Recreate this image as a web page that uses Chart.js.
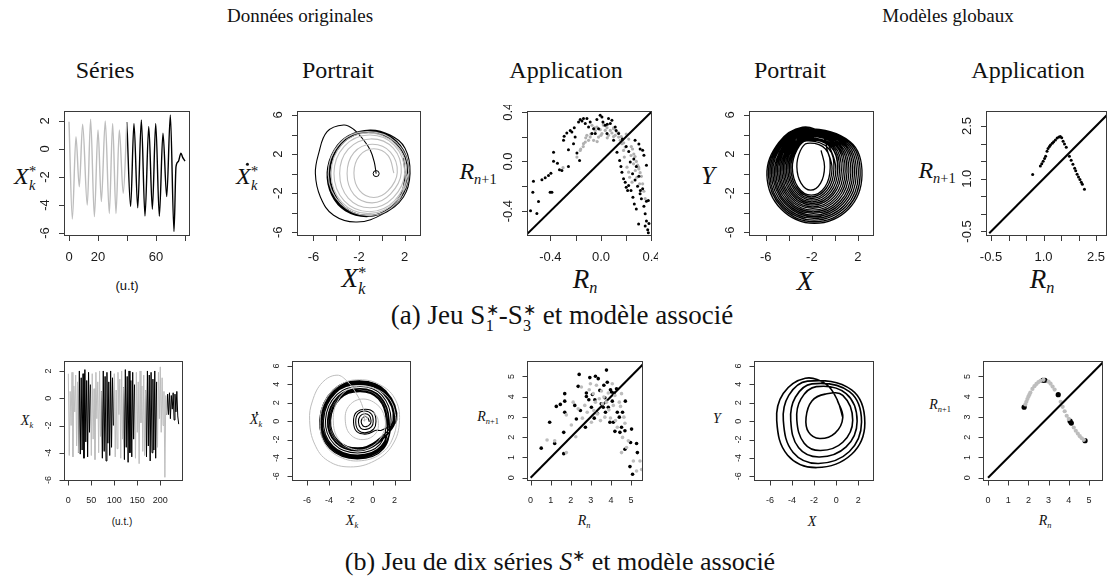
<!DOCTYPE html>
<html>
<head>
<meta charset="utf-8">
<script src="https://cdn.jsdelivr.net/npm/chart.js@4/dist/chart.umd.min.js"></script>
<style>
  html, body { margin: 0; padding: 0; background: #fff; }
  body { position: relative; width: 1109px; height: 578px; overflow: hidden; font-family: "Liberation Serif", serif; color: #111; }
  canvas { position: absolute; }
  .t { position: absolute; white-space: nowrap; transform: translate(-50%, -50%); font-size: 19px; }
  .sub { font-size: 24px; }
  .cap { font-size: 26px; }
  .ax { position: absolute; white-space: nowrap; transform: translate(-50%, -50%); font-family: "Liberation Serif", serif; line-height: 1; }
  .ax i { font-style: italic; }
  .sans { font-family: "Liberation Sans", sans-serif; }
  .ss { display: inline-block; vertical-align: -0.42em; font-size: 0.6em; line-height: 0.95; margin-left: 0.02em; text-align: left; }
  .ss > * { display: block; }
  .sb { font-size: 0.6em; vertical-align: -0.35em; }
  .dx { position: relative; display: inline-block; }
  .dx::after { content: ""; position: absolute; left: 68%; top: -0.04em; width: 0.13em; height: 0.13em; border-radius: 50%; background: #111; }
</style>
</head>
<body>

<div class="t" style="left:300px;top:16px">Données originales</div>
<div class="t" style="left:948px;top:16px">Modèles globaux</div>
<div class="t sub" style="left:105px;top:70px">Séries</div>
<div class="t sub" style="left:338px;top:70px">Portrait</div>
<div class="t sub" style="left:566px;top:70px">Application</div>
<div class="t sub" style="left:790px;top:70px">Portrait</div>
<div class="t sub" style="left:1028px;top:70px">Application</div>
<div class="t cap" style="left:562px;top:317px;font-size:27px">(a) Jeu S<span class="ss"><span>∗</span><span>1</span></span>-S<span class="ss"><span>∗</span><span>3</span></span> et modèle associé</div>
<div class="t cap" style="left:560px;top:562px">(b) Jeu de dix séries <i>S</i><sup style="font-size:0.6em">∗</sup> et modèle associé</div>

<!-- axis titles, first row -->
<div class="ax" style="left:25px;top:178px;font-size:24px"><i>X</i><span class="ss"><span>*</span><i>k</i></span></div>
<div class="ax sans" style="left:127px;top:285px;font-size:13px">(u.t)</div>
<div class="ax" style="left:247px;top:178px;font-size:24px"><i class="dx">X</i><span class="ss"><span>*</span><i>k</i></span></div>
<div class="ax" style="left:354px;top:281px;font-size:27px"><i>X</i><span class="ss"><span>*</span><i>k</i></span></div>
<div class="ax" style="left:478px;top:173px;font-size:24px"><i>R</i><span class="sb"><i>n</i>+1</span></div>
<div class="ax" style="left:585px;top:281px;font-size:27px"><i>R</i><span class="sb"><i>n</i></span></div>
<div class="ax" style="left:708px;top:175px;font-size:25px"><i>Y</i></div>
<div class="ax" style="left:805px;top:281px;font-size:27px"><i>X</i></div>
<div class="ax" style="left:937px;top:172px;font-size:24px"><i>R</i><span class="sb"><i>n</i>+1</span></div>
<div class="ax" style="left:1042px;top:281px;font-size:27px"><i>R</i><span class="sb"><i>n</i></span></div>

<!-- axis titles, second row -->
<div class="ax" style="left:27px;top:422px;font-size:14px"><i>X</i><span class="sb"><i>k</i></span></div>
<div class="ax sans" style="left:122px;top:522px;font-size:10px">(u.t.)</div>
<div class="ax" style="left:256px;top:421px;font-size:14px"><i class="dx">X</i><span class="sb"><i>k</i></span></div>
<div class="ax" style="left:352px;top:522px;font-size:14px"><i>X</i><span class="sb"><i>k</i></span></div>
<div class="ax" style="left:488px;top:418px;font-size:14px"><i>R</i><span class="sb"><i>n</i>+1</span></div>
<div class="ax" style="left:584px;top:522px;font-size:14px"><i>R</i><span class="sb"><i>n</i></span></div>
<div class="ax" style="left:717px;top:419px;font-size:14px"><i>Y</i></div>
<div class="ax" style="left:812px;top:522px;font-size:14px"><i>X</i></div>
<div class="ax" style="left:940px;top:406px;font-size:14px"><i>R</i><span class="sb"><i>n</i>+1</span></div>
<div class="ax" style="left:1045px;top:522px;font-size:14px"><i>R</i><span class="sb"><i>n</i></span></div>

<script>
// ===================== data =====================
const GRAY = '#bdbdbd';
const BLACK = '#000000';

// (a) time series: extrema of the measured signal, gray part then black part
const timesGrayA  = [0, 2.3, 4.8, 7.1, 9.4, 12.6, 14.9, 17.5, 20, 22.3, 25, 27.8, 30.1, 32.4, 34.7, 37.4, 39.9];
const valuesGrayA = [1.95, -5.0, 0.88, -2.7, 1.76, -4.0, 2.12, -4.83, 1.36, -3.76, 2.0, -4.6, 1.83, -4.6, 1.36, -3.17, 1.9];
const timesBlackA  = [39.9, 42.5, 44.8, 47.4, 49.9, 52.4, 55, 57.5, 59.8, 62.3, 64.8, 67.4, 69.9, 72.4, 73.8, 75.4, 77.2, 78.4, 80];
const valuesBlackA = [1.9, -4.1, 1.83, -4.2, 2.07, -4.79, 1.6, -4.3, 1.83, -4.8, 1.12, -3.4, 2.43, -5.9, -1.26, -0.9, -0.3, -0.6, -0.86];

// (a) original phase portrait
const portraitGrayA = [
  [1.05,0.05],[0.55,1.85],[-0.7,2.55],[-1.95,1.85],[-2.45,0.05],[-1.95,-1.75],[-0.7,-2.45],[0.55,-1.75],
  [1.35,0.1],[0.75,2.2],[-0.85,3.0],[-2.45,2.15],[-3.05,0],[-2.45,-2.15],[-0.85,-3.0],[0.75,-2.1],
  [1.7,0.1],[1.0,2.6],[-1.0,3.55],[-2.95,2.5],[-3.7,0],[-2.95,-2.5],[-1.0,-3.5],[1.0,-2.45],
  [2.0,0.1],[1.1,2.9],[-1.1,3.95],[-3.3,2.8],[-4.2,0],[-3.3,-2.8],[-1.1,-3.9],[1.1,-2.8],
  [2.15,0.1],[1.2,3.0],[-1.2,4.15],[-3.5,3.0],[-4.45,0],[-3.5,-2.95],[-1.15,-4.1],[1.2,-2.9],
  [2.35,0.1],[1.3,3.15],[-1.3,4.3],[-3.7,3.1],[-4.7,-0.1],[-3.6,-3.1],[-1.1,-4.3],[1.3,-3.0],[2.3,0]
];
const portraitBlackA = [
  [-0.5,0.0],[-0.67,1.21],[-1.02,2.41],[-1.6,3.44],[-2.48,4.54],[-3.35,4.98],[-4.8,4.3],[-5.54,2.07],[-5.83,0.0],
  [-5.39,-2.39],[-4.23,-4.27],[-2.18,-4.96],[0.14,-4.1],[1.89,-2.39],[2.47,0.0],[2.03,2.59],[0.72,3.95],[-1.02,4.47],
  [-2.9,3.9],[-4.2,2.4],[-4.8,0.1],[-4.4,-2.2],[-3.2,-3.8],[-1.2,-4.4],[0.7,-3.6],[1.95,-1.9],[2.35,0.2],[1.9,2.4],[0.6,3.9],[-1.1,4.35],
  [-2.8,3.8],[-4.1,2.2],[-4.6,-0.1],[-4.2,-2.4],[-2.9,-3.95],[-1.0,-4.35],[0.8,-3.5],[2.0,-1.7],[2.25,0.4],[1.7,2.5],[0.4,3.95],[-1.3,4.25],
  [-3.0,3.6],[-4.3,1.8],[-4.7,-0.4],[-4.1,-2.7],[-2.6,-4.1],[-0.7,-4.3],[1.0,-3.3],[2.1,-1.4],[2.3,0.6],[1.6,2.7],[0.2,4.05],[-1.5,4.3],
  [-3.2,3.5],[-4.4,1.5],[-4.6,-0.8],[-3.9,-2.9],[-2.3,-4.2],[-0.4,-4.2],[1.2,-3.0],[2.1,-1.0],[2.2,1.0],[1.4,2.9],[-0.1,4.1],[-1.8,4.2],
  [-3.4,3.2],[-4.5,1.1],[-4.5,-1.2],[-3.6,-3.2],[-2.0,-4.3],[-0.2,-4.1],[1.3,-2.8],[2.05,-0.7],[2.15,1.3],[1.2,3.1],[-0.4,4.1],[-2.1,4.05],
  [-3.6,2.9],[-4.5,0.7],[-4.3,-1.6],[-3.3,-3.4],[-1.6,-4.25],[0.2,-3.9],[1.5,-2.5],[2.0,-0.4],[1.9,1.6]
];
const portraitStartA = [[-0.5, 0.0]];

// (a) first-return map of the data
const mapBlackA = [
  [-0.557,-0.396],[-0.539,-0.248],[-0.534,-0.159],[-0.507,-0.418],[-0.494,-0.323],[-0.467,-0.148],[-0.441,-0.132],
  [-0.415,-0.113],[-0.402,-0.248],[-0.388,-0.248],[-0.396,-0.094],[-0.375,0.075],[-0.375,0.002],[-0.344,-0.014],
  [-0.328,-0.067],[-0.309,-0.073],[-0.296,0.17],[-0.291,0.202],[-0.27,0.229],[-0.257,-0.04],[-0.257,0.095],
  [-0.243,0.25],[-0.23,0.237],[-0.217,0.143],[-0.211,0.272],[-0.204,0.196],[-0.19,0.067],[-0.177,0.318],
  [-0.169,0.008],[-0.164,0.337],[-0.15,0.326],[-0.138,0.345],[-0.124,0.305],[-0.111,0.345],[-0.098,0.277],
  [-0.085,0.318],[-0.071,0.224],[-0.058,0.264],[-0.045,0.224],[-0.032,0.337],[-0.019,0.264],[-0.006,0.372],
  [0.008,0.358],[0.016,0.318],[0.034,0.291],[0.048,0.224],[0.06,0.345],[0.074,0.305],[0.087,0.331],[0.1,0.17],
  [0.113,0.277],[0.127,0.075],[0.14,0.224],[0.148,0.008],[0.158,-0.04],[0.166,-0.086],[0.179,-0.14],[0.192,-0.167],
  [0.2,-0.208],[0.211,-0.234],[0.219,-0.194],[0.232,-0.005],[0.238,-0.234],[0.253,-0.288],[0.264,-0.342],
  [0.28,-0.382],[0.298,-0.503],[0.35,-0.52],[0.375,-0.574],[0.375,-0.315],[0.312,-0.234],[0.33,0.09],[0.36,-0.03],
  [0.27,0.17],[0.25,-0.1],[0.27,-0.15],[0.29,-0.2],[0.31,-0.26],[0.32,-0.3],[0.34,-0.36],[0.35,-0.42],[0.36,-0.48],
  [0.37,-0.55],[0.38,-0.5],[0.36,-0.32],[0.33,-0.22],[0.3,-0.12],[0.28,-0.04],[0.26,0.02],[0.22,0.08],[0.2,0.12],
  [0.17,0.18],[0.12,0.25],[0.05,0.3],[0.34,0.05],[0.31,0.1],[0.3,0.14]
];
const mapGrayA = [
  [-0.19,0.035],[-0.164,0.089],[-0.138,0.143],[-0.124,0.156],[-0.111,0.21],[-0.098,0.17],[-0.085,0.196],[-0.071,0.291],
  [-0.058,0.17],[-0.045,0.25],[-0.032,0.277],[-0.019,0.196],[-0.006,0.256],[0.008,0.224],[0.021,0.291],[0.034,0.25],
  [0.048,0.272],[0.06,0.21],[0.074,0.25],[0.087,0.229],[0.1,0.264],[0.113,0.21],[0.127,0.237],[0.14,0.196],[0.153,0.17],
  [0.166,0.143],[0.179,0.089],[0.185,0.035],[0.192,0.116],[0.206,-0.046],[0.219,-0.086],[0.227,-0.127],[0.238,0.048],
  [0.246,-0.167],[0.258,-0.019],[0.272,-0.073],[0.285,-0.127],[0.298,-0.046],[0.306,-0.18],
  [0.2,0.22],[0.22,0.18],[0.24,0.12],[0.26,0.06],[0.28,0.0],[0.3,-0.06],[0.32,-0.12],[0.33,-0.18],[0.34,-0.24],
  [0.35,-0.3],[0.25,0.1],[0.27,0.04],[0.29,-0.03],[0.31,-0.09],[0.16,0.2],[0.18,0.15],[0.1,0.27],[0.02,0.3],
  [-0.05,0.27],[-0.08,0.22],[-0.12,0.19],[-0.14,0.12],[-0.16,0.1],[-0.3,-0.05],[0.05,0.19],[0.1,0.2],[0.14,0.23],
  [0.0,0.21],[-0.03,0.16]
];
const identityA = [-0.6, 0.42];

// (a) global model phase portrait: spiralling turns, re-injected through the fold near the top
const portraitModelA = [
  [-1.2,2.38],[-0.9,0.7],[-1.24,-0.98],[-2.1,-1.7],[-2.94,-0.98],[-3.3,0.7],[-3.0,2.33],[-2.4,3.1],
  [-0.82,2.52],[-0.41,0.57],[-0.87,-1.38],[-2.05,-2.21],[-3.2,-1.38],[-3.69,0.57],[-3.28,2.46],[-2.46,3.35],
  [-0.57,2.6],[-0.09,0.48],[-0.63,-1.64],[-2.02,-2.55],[-3.37,-1.64],[-3.95,0.48],[-3.47,2.54],[-2.5,3.51],
  [-0.32,2.7],[0.24,0.4],[-0.38,-1.9],[-1.99,-2.89],[-3.55,-1.9],[-4.21,0.4],[-3.66,2.64],[-2.55,3.68],
  [-0.07,2.79],[0.56,0.31],[-0.15,-2.17],[-1.96,-3.23],[-3.72,-2.17],[-4.47,0.31],[-3.85,2.72],[-2.59,3.84],
  [0.19,2.87],[0.89,0.22],[0.1,-2.43],[-1.92,-3.57],[-3.89,-2.43],[-4.73,0.22],[-4.03,2.8],[-2.62,4.01],
  [0.44,2.96],[1.21,0.13],[0.34,-2.7],[-1.89,-3.91],[-4.06,-2.7],[-4.99,0.13],[-4.22,2.88],[-2.67,4.17],
  [0.69,3.06],[1.54,0.05],[0.59,-2.96],[-1.86,-4.25],[-4.24,-2.96],[-5.25,0.05],[-4.41,2.97],[-2.71,4.34],
  [0.94,3.14],[1.86,-0.05],[0.83,-3.24],[-1.83,-4.59],[-4.41,-3.24],[-5.51,-0.05],[-4.6,3.04],[-2.75,4.5],
  [1.2,3.23],[2.19,-0.13],[1.08,-3.49],[-1.79,-4.93],[-4.58,-3.49],[-5.77,-0.13],[-4.78,3.13],[-2.79,4.67],
  [-1.2,3.9],
  [-0.44,2.65],[0.08,0.44],[-0.5,-1.77],[-2.0,-2.72],[-3.46,-1.77],[-4.08,0.44],[-3.56,2.59],[-2.52,3.6],
  [0.06,2.84],[0.73,0.27],[-0.02,-2.3],[-1.94,-3.4],[-3.81,-2.3],[-4.6,0.27],[-3.94,2.77],[-2.61,3.93],
  [0.31,2.92],[1.05,0.18],[0.22,-2.56],[-1.91,-3.74],[-3.98,-2.56],[-4.86,0.18],[-4.13,2.85],[-2.65,4.09],
  [0.57,3.01],[1.38,0.09],[0.47,-2.83],[-1.87,-4.08],[-4.15,-2.83],[-5.12,0.09],[-4.31,2.93],[-2.68,4.26],
  [0.82,3.09],[1.7,0.0],[0.71,-3.09],[-1.84,-4.42],[-4.32,-3.09],[-5.38,0.0],[-4.5,3.01],[-2.73,4.42],
  [1.07,3.19],[2.03,-0.09],[0.95,-3.37],[-1.81,-4.76],[-4.5,-3.37],[-5.64,-0.09],[-4.69,3.09],[-2.77,4.59],
  [1.32,3.27],[2.35,-0.18],[1.19,-3.63],[-1.78,-5.1],[-4.67,-3.63],[-5.9,-0.18],[-4.88,3.17],[-2.81,4.75],
  [-1.0,3.95],
  [-0.7,2.56],[-0.25,0.53],[-0.75,-1.5],[-2.04,-2.38],[-3.29,-1.5],[-3.82,0.53],[-3.38,2.5],[-2.49,3.43],
  [-0.19,2.74],[0.4,0.35],[-0.26,-2.04],[-1.97,-3.06],[-3.63,-2.04],[-4.34,0.35],[-3.75,2.67],[-2.56,3.76],
  [0.1,2.85]
];

// (a) first-return map of the model
const mapModelA = [
  [0.69,1.12],[0.91,1.36],[0.95,1.43],[0.99,1.5],[1.03,1.58],[1.06,1.64],[1.1,1.78],[1.13,1.86],[1.17,1.92],
  [1.2,1.96],[1.25,2.01],[1.29,2.05],[1.34,2.1],[1.39,2.16],[1.44,2.19],[1.48,2.2],[1.52,2.17],[1.56,2.07],
  [1.6,1.99],[1.65,1.9],[1.74,1.64],[1.79,1.53],[1.84,1.41],[1.89,1.3],[1.92,1.23],[1.96,1.13],[2.0,1.05],
  [2.04,0.98],[2.08,0.9],[2.11,0.84],[2.17,0.7]
];
const identityModelA = [-0.55, 3.0];

// (b) ten series: alternating extrema sampled every 2 time units
const stepB = 2;
const valuesB = [
  1.8,-4.2,0.5,-2.0,1.9,-4.3,0.9,-1.0,1.7,-3.5,1.2,-4.0,
  2.0,-4.1,1.5,-3.8,1.8,-4.4,2.1,-3.2,1.3,-4.3,1.9,-2.5,1.0,
  -4.2,1.8,-3.0,0.7,-4.5,1.9,-1.5,1.2,-4.0,2.0,-2.8,0.5,
  -4.4,2.0,-3.9,1.6,-4.6,1.9,-3.3,1.2,-4.2,2.0,-3.6,1.5,-2.0,
  1.8,-4.3,0.6,-3.7,1.9,-1.2,1.4,-4.4,2.0,-3.0,0.8,
  -4.5,2.1,-3.6,1.6,-4.7,2.0,-4.0,1.3,-4.3,1.9,-3.0,1.0,
  -4.4,1.9,-2.5,1.2,-4.8,2.0,-1.8,0.9,-3.9,1.7,-4.2,0.6,
  -4.3,2.0,-3.5,1.7,-4.6,1.9,-4.0,1.4,-3.8,2.0,-4.4,1.2,
  -3.6,1.9,-1.5,2.3,-2.5,1.5,-2.0,0.5,-5.8,0.2,-1.2,
  0.3,-1.2,0.4,-1.5,0.2,-0.8,0.4,-1.6,0.3,-1.0,0.5,-1.3,-1.9
];
const segmentsB = [0, 11, 24, 36, 49, 60, 72, 84, 96, 107, 120];

// (b) original phase portrait
const portraitGrayB = [
  [-0.7,0.1],[-0.45,0.35],[-0.7,0.55],[-0.95,0.3],[-0.75,0.0],[-0.9,1.5],[-1.5,3.0],[-2.3,4.3],[-3.26,5.0],
  [-4.6,4.2],[-5.5,2.2],[-5.76,0.05],[-5.3,-2.5],[-4.1,-4.3],[-2.05,-4.98],[0.2,-4.3],[1.8,-2.6],[2.45,0.05],
  [2.0,2.5],[0.6,4.0],[-1.2,4.5],[-2.9,4.0],[-4.3,2.3],[-4.8,0.0],[-4.4,-2.4],[-3.0,-3.9],[-1.0,-4.3],[0.9,-3.4],
  [1.95,-1.5],[2.1,0.5],[1.4,2.6],[-0.3,3.7],[-2.0,3.6],[-3.2,2.2],[-3.6,0.1],[-3.1,-2.0],[-1.6,-3.1],[0.0,-2.7],
  [1.0,-1.2],[1.1,0.4],[0.4,1.8],[-1.0,2.4],[-2.2,1.6],[-2.5,0.0],[-2.0,-1.5],[-0.8,-2.0],[0.3,-1.3],[0.5,0.1],[0.1,1.0]
];
const portraitBlackB = [
  [-0.3,-0.07],[-0.45,0.35],[-0.7,0.5],[-0.95,0.3],[-1.05,-0.1],[-0.9,-0.5],[-0.6,-0.6],[-0.25,-0.35],
  [-0.15,0.05],[-0.3,0.6],[-0.7,0.8],[-1.15,0.55],[-1.3,-0.1],[-1.1,-0.75],[-0.6,-0.9],[-0.1,-0.6],
  [0.05,0.0],[-0.1,0.75],[-0.7,1.1],[-1.35,0.8],[-1.55,-0.1],[-1.3,-1.0],[-0.6,-1.25],[0.1,-0.85],
  [0.3,-0.05],[0.1,0.95],[-0.65,1.3],[-1.5,0.95],[-1.75,-0.1],[-1.45,-1.15],[-0.55,-1.4],[0.3,-1.0],[0.8,-0.98],
  [2.2,0.1],[1.2,3.3],[-1.1,4.4],[-3.6,3.4],[-4.85,0.1],[-3.9,-3.0],[-1.4,-4.1],[1.0,-3.0],
  [1.51,0.11],[0.71,2.67],[-1.13,3.55],[-3.13,2.75],[-4.13,0.11],[-3.37,-2.37],[-1.37,-3.25],[0.55,-2.37],
  [1.96,0.1],[1.03,3.08],[-1.11,4.1],[-3.44,3.17],[-4.6,0.1],[-3.71,-2.78],[-1.39,-3.8],[0.84,-2.78],
  [1.34,0.11],[0.59,2.51],[-1.14,3.34],[-3.01,2.59],[-3.95,0.11],[-3.24,-2.21],[-1.36,-3.04],[0.44,-2.21],
  [2.1,0.1],[1.13,3.21],[-1.1,4.27],[-3.53,3.3],[-4.74,0.1],[-3.82,-2.91],[-1.4,-3.97],[0.93,-2.91],
  [1.68,0.11],[0.83,2.83],[-1.12,3.76],[-3.25,2.91],[-4.31,0.11],[-3.5,-2.53],[-1.38,-3.46],[0.66,-2.53],
  [1.23,0.11],[0.51,2.42],[-1.14,3.21],[-2.94,2.49],[-3.84,0.11],[-3.16,-2.12],[-1.36,-2.91],[0.37,-2.12],
  [1.86,0.11],[0.96,2.99],[-1.12,3.98],[-3.37,3.08],[-4.49,0.11],[-3.64,-2.69],[-1.39,-3.68],[0.78,-2.69],
  [1.44,0.11],[0.66,2.61],[-1.13,3.47],[-3.08,2.69],[-4.06,0.11],[-3.32,-2.31],[-1.37,-3.17],[0.51,-2.31],
  [2.03,0.1],[1.08,3.14],[-1.11,4.19],[-3.48,3.24],[-4.67,0.1],[-3.77,-2.84],[-1.39,-3.89],[0.89,-2.84],[1.9,0.1]
];

// (b) first-return map of the data
const mapBlackB = [
  [0.53,1.46],[0.95,2.74],[1.2,1.69],[1.28,3.52],[1.48,3.62],[1.7,4.15],[1.7,3.78],[1.7,3.23],[1.65,2.24],[1.65,1.19],
  [2.2,3.57],[2.28,2.9],[2.37,4.51],[2.42,5.1],[2.48,3.32],[2.73,2.49],[2.78,4.18],[2.78,4.01],[2.9,3.85],[2.95,4.94],
  [3.03,3.48],[3.08,4.11],[3.17,2.94],[3.2,3.85],[3.23,5.01],[3.32,3.18],[3.37,4.89],[3.45,4.31],[3.52,3.65],[3.62,3.48],
  [3.65,4.56],[3.7,3.95],[3.73,3.23],[3.78,5.31],[3.82,4.71],[3.87,3.48],[3.95,2.74],[3.98,4.34],[4.03,4.23],[4.07,3.78],
  [4.12,2.74],[4.15,4.18],[4.2,2.29],[4.28,4.39],[4.32,3.23],[4.42,2.99],[4.45,2.24],[4.53,2.49],[4.58,3.23],[4.7,2.32],
  [4.72,3.78],[4.7,1.41],[4.98,1.74],[5.03,2.4],[4.95,0.55],[5.08,0.17],[5.28,1.69],[5.32,1.24]
];
const mapGrayB = [
  [0.82,1.86],[1.2,1.82],[1.78,1.24],[1.78,3.1],[2.03,2.6],[2.12,3.73],[2.25,2.02],[2.37,3.4],[2.53,4.48],[2.58,2.94],
  [2.7,3.57],[2.82,3.23],[2.92,4.34],[2.98,4.64],[3.03,2.74],[3.12,4.15],[3.15,3.32],[3.23,3.73],[3.28,4.56],[3.33,3.15],
  [3.42,3.9],[3.48,2.82],[3.53,4.28],[3.58,3.65],[3.65,3.98],[3.7,2.99],[3.78,3.73],[3.87,4.18],[3.9,3.35],[3.98,2.95],
  [4.07,4.64],[4.12,3.57],[4.2,4.06],[4.23,2.82],[4.32,2.49],[4.42,3.73],[4.48,3.52],[4.53,4.15],[4.58,1.99],[4.65,2.99],
  [4.7,2.69],[4.53,1.24],[4.78,1.49],[4.87,1.82],[5.12,0.83],[5.28,0.33],[5.53,0.41],[5.45,0.83]
];
const identityB = [0, 6];

// (b) global model phase portrait: closed orbit of five growing turns
const portraitModelB = [
  [0.1,2.3],[0.6,0.4],[-0.1,-1.3],[-1.5,-1.89],[-2.5,-1.2],[-2.73,0.4],[-2.2,2.2],[-1.0,2.94],
  [0.6,2.8],[1.5,0.1],[0.6,-2.3],[-1.4,-3.2],[-2.9,-2.4],[-3.57,0.15],[-3.2,2.4],[-1.8,3.75],
  [0.9,3.0],[1.9,0.0],[0.9,-2.8],[-1.5,-3.9],[-3.4,-2.9],[-4.12,0.1],[-3.7,2.6],[-2.2,4.05],
  [1.2,3.2],[2.3,-0.1],[1.2,-3.3],[-1.6,-4.6],[-3.9,-3.4],[-4.79,0.05],[-4.3,2.8],[-2.6,4.35],
  [1.4,3.4],[2.6,-0.2],[1.4,-3.6],[-1.75,-5.05],[-4.4,-3.7],[-5.39,0.05],[-4.8,3.0],[-2.8,4.66],
  [-0.9,4.0],[0.1,2.3],[0.6,0.4]
];

// (b) first-return map of the model
const mapModelGrayB = [
  [1.85,3.62],[1.9,3.75],[1.95,3.88],[2.0,4.0],[2.05,4.1],[2.1,4.2],[2.2,4.38],[2.3,4.52],[2.4,4.63],[2.5,4.72],
  [2.6,4.78],[2.75,4.83],[3.0,4.74],[3.1,4.64],[3.2,4.5],[3.3,4.35],[3.6,3.75],[3.7,3.5],[3.8,3.28],[3.9,3.06],
  [4.0,2.9],[4.25,2.48],[4.35,2.32],[4.45,2.18],[4.55,2.05],[4.65,1.95],[4.75,1.87]
];
const mapModelBlackB = [[1.79,3.48],[2.72,4.81],[2.82,4.81],[3.48,4.1],[4.07,2.79],[4.13,2.7],[4.81,1.83]];

// tick positions and labels
const ticksSeriesA = [0, 20, 40, 60, 80],   labelsSeriesA = ['0', '20', '', '60', ''];
const ticksSeriesAy = [-6, -4, -2, 0, 2],  labelsSeriesAy = ['-6', '-4', '-2', '0', '2'];
const ticksPortrait = [-6, -4, -2, 0, 2],  labelsPortraitA = ['-6', '', '-2', '', '2'];
const ticksPortraitY = [-6, -4, -2, 0, 2, 4, 6], labelsPortraitAy = ['-6', '', '-2', '', '2', '', '6'];
const ticksMapA = [-0.4, -0.2, 0, 0.2, 0.4], labelsMapA = ['-0.4', '', '0.0', '', '0.4'];
const ticksMapModelA = [-0.5, 0, 0.5, 1, 1.5, 2, 2.5], labelsMapModelA = ['-0.5', '', '', '1.0', '', '', '2.5'];
const ticksSeriesB = [0, 50, 100, 150, 200], labelsSeriesB = ['0', '50', '100', '150', '200'];
const labelsPortraitB = ['-6', '-4', '-2', '0', '2'];
const labelsPortraitBy = ['-6', '-4', '-2', '0', '2', '4', '6'];
const ticksMapB = [0, 1, 2, 3, 4, 5], labelsMapB = ['0', '1', '2', '3', '4', '5'];

// ===================== drawing =====================
const pts = arr => arr.map(([x, y]) => ({ x, y }));
const lineSet = (arr, color, width, tension) => ({
  data: pts(arr), showLine: true, borderColor: color, borderWidth: width, pointRadius: 0, tension: tension, fill: false
});
const dotSet = (arr, color, r) => ({
  data: pts(arr), showLine: false, pointRadius: r, pointBackgroundColor: color, pointBorderColor: color, pointBorderWidth: 0
});
const diag = (lim, width) => ({
  data: [{ x: lim[0], y: lim[0] }, { x: lim[1], y: lim[1] }], showLine: true, borderColor: BLACK, borderWidth: width, pointRadius: 0
});

// R-like box, outward ticks and rotated y labels, placed through the chart scales
const rAxes = {
  id: 'rAxes',
  afterDraw(chart, args, o) {
    const { ctx, chartArea: a, scales } = chart;
    const xs = scales.x, ys = scales.y;
    ctx.save();
    ctx.strokeStyle = '#3a3a3a';
    ctx.lineWidth = 1;
    ctx.strokeRect(a.left + 0.5, a.top + 0.5, a.right - a.left - 1, a.bottom - a.top - 1);
    ctx.beginPath();
    o.xTicks.forEach(v => {
      const p = Math.round(xs.getPixelForValue(v)) + 0.5;
      ctx.moveTo(p, a.bottom); ctx.lineTo(p, a.bottom + o.tick);
    });
    o.yTicks.forEach(v => {
      const p = Math.round(ys.getPixelForValue(v)) + 0.5;
      ctx.moveTo(a.left, p); ctx.lineTo(a.left - o.tick, p);
    });
    ctx.stroke();
    ctx.fillStyle = '#1a1a1a';
    ctx.font = o.font;
    ctx.textAlign = 'center';
    ctx.textBaseline = 'middle';
    o.xTicks.forEach((v, i) => {
      const s = o.xLabels[i];
      if (s) ctx.fillText(s, xs.getPixelForValue(v), a.bottom + o.xOff);
    });
    o.yTicks.forEach((v, i) => {
      const s = o.yLabels[i];
      if (!s) return;
      ctx.save();
      ctx.translate(a.left - o.yOff, ys.getPixelForValue(v));
      ctx.rotate(-Math.PI / 2);
      ctx.fillText(s, 0, 0);
      ctx.restore();
    });
    ctx.restore();
  }
};

const PAD = { left: 62, top: 6, right: 6, bottom: 34 };
function panel(box, xr, yr, datasets, axes) {
  const c = document.createElement('canvas');
  c.width = box.r - box.l + PAD.left + PAD.right;
  c.height = box.b - box.t + PAD.top + PAD.bottom;
  c.style.left = (box.l - PAD.left) + 'px';
  c.style.top = (box.t - PAD.top) + 'px';
  document.body.appendChild(c);
  new Chart(c, {
    type: 'scatter',
    data: { datasets },
    options: {
      responsive: false, animation: false, events: [], devicePixelRatio: 1,
      layout: { padding: PAD },
      scales: {
        x: { type: 'linear', min: xr[0], max: xr[1], display: false },
        y: { type: 'linear', min: yr[0], max: yr[1], display: false }
      },
      plugins: { legend: { display: false }, tooltip: { enabled: false }, rAxes: axes }
    },
    plugins: [rAxes]
  });
}

const bigAxes = (xt, xl, yt, yl) => ({ xTicks: xt, xLabels: xl, yTicks: yt, yLabels: yl, tick: 5, xOff: 21, yOff: 19, font: '13px "Liberation Sans", Arial, sans-serif' });
const smallAxes = (xt, xl, yt, yl) => ({ xTicks: xt, xLabels: xl, yTicks: yt, yLabels: yl, tick: 4.5, xOff: 20, yOff: 15, font: '9px "Liberation Sans", Arial, sans-serif' });

// ----- row (a) -----
panel({ l: 64, r: 190, t: 111, b: 236 }, [-3.45, 83.45], [-6.21, 2.71], [
  Object.assign(lineSet(timesGrayA.map((t, i) => [t, valuesGrayA[i]]), GRAY, 1.4, 0), { cubicInterpolationMode: 'monotone' }),
  Object.assign(lineSet(timesBlackA.map((t, i) => [t, valuesBlackA[i]]), BLACK, 1.4, 0), { cubicInterpolationMode: 'monotone' })
], bigAxes(ticksSeriesA, labelsSeriesA, ticksSeriesAy, labelsSeriesAy));

panel({ l: 297, r: 421, t: 111, b: 236 }, [-7.44, 3.43], [-6.39, 6.41], [
  lineSet(portraitGrayA, GRAY, 1.1, 0.4),
  lineSet(portraitBlackA, BLACK, 1.1, 0.4),
  { data: pts(portraitStartA), showLine: false, pointRadius: 3, pointBackgroundColor: '#fff', pointBorderColor: BLACK, pointBorderWidth: 1 }
], bigAxes(ticksPortrait, labelsPortraitA, ticksPortraitY, labelsPortraitAy));

panel({ l: 527, r: 652, t: 111, b: 236 }, [-0.585, 0.404], [-0.6, 0.406], [
  diag(identityA, 2),
  dotSet(mapBlackA, BLACK, 1.5),
  dotSet(mapGrayA, '#b0b0b0', 1.6)
], bigAxes(ticksMapA, labelsMapA, ticksMapA, labelsMapA));

panel({ l: 749, r: 874, t: 111, b: 236 }, [-7.45, 3.39], [-6.39, 6.41], [
  lineSet(portraitModelA, BLACK, 1.3, 0.4)
], bigAxes(ticksPortrait, labelsPortraitA, ticksPortraitY, labelsPortraitAy));

panel({ l: 986, r: 1107, t: 111, b: 236 }, [-0.643, 2.814], [-0.63, 2.929], [
  diag(identityModelA, 2),
  dotSet(mapModelA, BLACK, 1.5)
], bigAxes(ticksMapModelA, labelsMapModelA, ticksMapModelA, labelsMapModelA));

// ----- row (b) -----
const seriesBSets = [];
for (let s = 0; s + 1 < segmentsB.length; s++) {
  const part = [];
  for (let i = segmentsB[s]; i <= segmentsB[s + 1]; i++) part.push([i * stepB, valuesB[i]]);
  seriesBSets.push(lineSet(part, s % 2 === 0 ? GRAY : BLACK, 1, 0));
}
panel({ l: 64, r: 183, t: 361, b: 481 }, [-9.4, 249.4], [-6.07, 2.73], seriesBSets,
  smallAxes(ticksSeriesB, labelsSeriesB, ticksSeriesAy, labelsSeriesAy));

panel({ l: 292, r: 411, t: 361, b: 481 }, [-7.37, 3.5], [-6.51, 6.54], [
  lineSet(portraitGrayB, GRAY, 1, 0.4),
  lineSet(portraitBlackB, BLACK, 1.1, 0.4)
], smallAxes(ticksPortrait, labelsPortraitB, ticksPortraitY, labelsPortraitBy));

panel({ l: 527, r: 643, t: 361, b: 481 }, [-0.18, 5.6], [-0.16, 5.76], [
  dotSet(mapGrayB, GRAY, 1.8),
  diag(identityB, 2),
  dotSet(mapBlackB, BLACK, 1.8)
], smallAxes(ticksMapB, labelsMapB, ticksMapB, labelsMapB));

panel({ l: 754, r: 874, t: 361, b: 481 }, [-7.45, 3.43], [-6.51, 6.54], [
  lineSet(portraitModelB, BLACK, 1.6, 0.4)
], smallAxes(ticksPortrait, labelsPortraitB, ticksPortraitY, labelsPortraitBy));

panel({ l: 983, r: 1103, t: 361, b: 481 }, [-0.25, 5.7], [-0.16, 5.76], [
  diag(identityB, 2),
  dotSet(mapModelGrayB, GRAY, 2.1),
  dotSet(mapModelBlackB, BLACK, 2.6)
], smallAxes(ticksMapB, labelsMapB, ticksMapB, labelsMapB));
</script>
</body>
</html>
